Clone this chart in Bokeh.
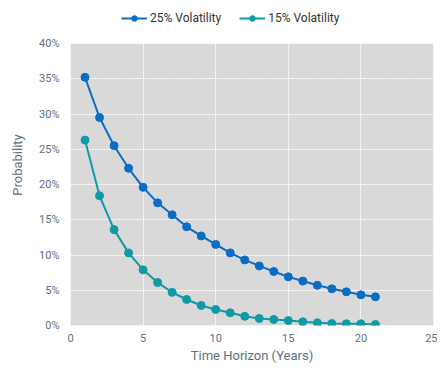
from bokeh.plotting import figure
from bokeh.models import NumeralTickFormatter, FixedTicker, Legend, BoxAnnotation
from bokeh.embed import file_html
from bokeh.resources import INLINE

years = list(range(1, 22))
vol25 = [35.2, 29.5, 25.5, 22.3, 19.6, 17.4, 15.7, 14.0, 12.7, 11.5, 10.3, 9.3,
         8.45, 7.66, 6.9, 6.3, 5.7, 5.2, 4.78, 4.35, 4.07]
vol15 = [26.3, 18.4, 13.6, 10.3, 7.9, 6.1, 4.7, 3.69, 2.84, 2.27, 1.8, 1.3,
         1.0, 0.85, 0.7, 0.52, 0.38, 0.28, 0.24, 0.24, 0.14]
x_ticks = [0, 5, 10, 15, 20, 25]
y_ticks = [0, 0.05, 0.10, 0.15, 0.20, 0.25, 0.30, 0.35, 0.40]

c25 = "#0a6cc4"
c15 = "#0f9aa6"
txt = "#5b7086"
FONT = "Roboto"

# frame spans page y 4..325; the 0-40% band (282 px) is drawn grey, the strip above holds the legend
y_top = 0.40 * 321 / 282

p = figure(width=437, height=366, output_backend="svg", toolbar_location=None,
           x_range=(0, 25), y_range=(0, y_top),
           min_border_left=70, min_border_right=4, min_border_top=4, min_border_bottom=41)
p.background_fill_color = "white"
p.border_fill_color = "white"
p.outline_line_color = None
p.add_layout(BoxAnnotation(bottom=0, top=0.40, fill_color="#d9d9d9", fill_alpha=1,
                           line_color=None, level="image"))

y25 = [v / 100 for v in vol25]
y15 = [v / 100 for v in vol15]
l1 = p.line(years, y25, line_color=c25, line_width=2)
s1 = p.scatter(years, y25, size=8, fill_color=c25, line_color=c25)
l2 = p.line(years, y15, line_color=c15, line_width=2)
s2 = p.scatter(years, y15, size=8, fill_color=c15, line_color=c15)

legend = Legend(items=[("25% Volatility", [l1, s1]), ("15% Volatility", [l2, s2])],
                orientation="horizontal", location=(51, 300),
                border_line_color=None, background_fill_alpha=0,
                label_text_font=FONT, label_text_font_size="12px",
                label_text_color="#333333", glyph_width=26, glyph_height=14,
                spacing=18, padding=2, margin=0, label_standoff=3,
                label_height=14)
p.add_layout(legend, "center")

p.xaxis.ticker = FixedTicker(ticks=x_ticks)
p.yaxis.ticker = FixedTicker(ticks=y_ticks)
p.xgrid.ticker = FixedTicker(ticks=x_ticks)
p.ygrid.ticker = FixedTicker(ticks=y_ticks)
p.yaxis.formatter = NumeralTickFormatter(format="0%")
p.xaxis.axis_label = "Time Horizon (Years)"
p.yaxis.axis_label = "Probability"
for ax in (p.xaxis, p.yaxis):
    ax.axis_line_color = None
    ax.major_tick_line_color = None
    ax.minor_tick_line_color = None
    ax.major_tick_out = 0
    ax.major_tick_in = 0
    ax.minor_tick_out = 0
    ax.minor_tick_in = 0
    ax.major_label_text_font = FONT
    ax.major_label_text_font_size = "11px"
    ax.major_label_text_color = txt
    ax.axis_label_text_font = FONT
    ax.axis_label_text_font_size = "13px"
    ax.axis_label_text_font_style = "normal"
    ax.axis_label_text_color = txt
p.xaxis.major_label_standoff = 8
p.yaxis.major_label_standoff = 11
p.xaxis.axis_label_standoff = 3
p.yaxis.axis_label_standoff = 11

p.grid.grid_line_color = "white"
p.grid.grid_line_dash = "2 1"
p.grid.grid_line_width = 1

open("out.html", "w").write(file_html(p, INLINE))
